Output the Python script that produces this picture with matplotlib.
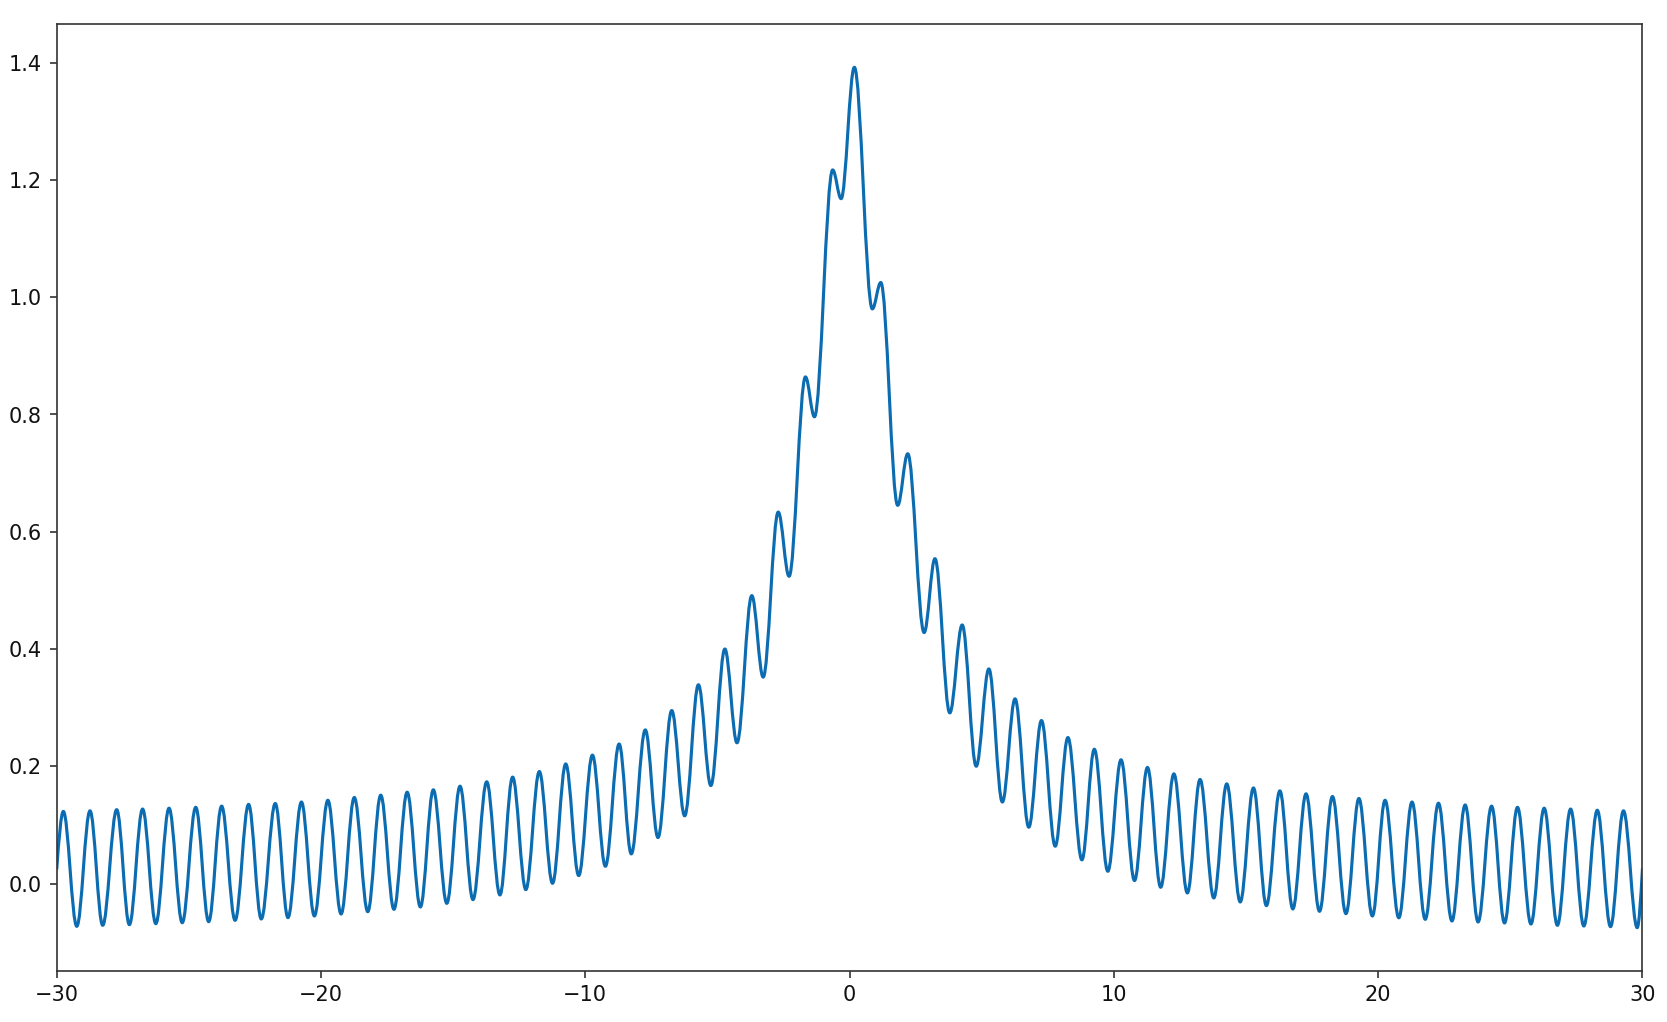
import numpy as np
import matplotlib
matplotlib.use("Agg")
import matplotlib.pyplot as plt
from matplotlib.path import Path
from matplotlib.patches import PathPatch

# ---- data (local maxima / minima of the curve) ----
peak_x = [-29.75, -28.74, -27.73, -26.75, -25.75, -24.74, -23.76, -22.74, -21.73, -20.74,
          -19.74, -18.74, -17.74, -16.74, -15.75, -14.74, -13.73, -12.75, -11.74, -10.74,
          -9.73, -8.72, -7.73, -6.73, -5.72, -4.72, -3.70, -2.70, -1.67, -0.64,
          0.18, 1.18, 2.20, 3.23, 4.26, 5.27, 6.26, 7.26, 8.26, 9.26,
          10.27, 11.27, 12.27, 13.26, 14.27, 15.28, 16.28, 17.27, 18.27, 19.27,
          20.26, 21.28, 22.28, 23.29, 24.29, 25.27, 26.28, 27.28, 28.29, 29.28]
peak_y = [0.123, 0.124, 0.126, 0.127, 0.1285, 0.130, 0.132, 0.135, 0.1365, 0.139,
          0.142, 0.1467, 0.1507, 0.1558, 0.1598, 0.166, 0.1735, 0.1815, 0.191, 0.204,
          0.219, 0.238, 0.262, 0.295, 0.339, 0.400, 0.491, 0.6335, 0.864, 1.217,
          1.392, 1.025, 0.733, 0.554, 0.441, 0.366, 0.315, 0.278, 0.249, 0.229,
          0.211, 0.198, 0.187, 0.1775, 0.170, 0.163, 0.158, 0.153, 0.1484, 0.145,
          0.142, 0.139, 0.137, 0.134, 0.132, 0.130, 0.1285, 0.127, 0.125, 0.124]
trough_x = [-29.24, -28.26, -27.25, -26.25, -25.25, -24.25, -23.25, -22.26, -21.25, -20.25,
            -19.24, -18.23, -17.24, -16.24, -15.24, -14.25, -13.23, -12.25, -11.24, -10.25,
            -9.24, -8.26, -7.25, -6.24, -5.25, -4.26, -3.27, -2.29, -1.33, -0.32,
            0.86, 1.82, 2.82, 3.79, 4.79, 5.78, 6.78, 7.78, 8.79, 9.77,
            10.78, 11.77, 12.78, 13.78, 14.78, 15.77, 16.77, 17.78, 18.78, 19.78,
            20.78, 21.78, 22.79, 23.78, 24.78, 25.78, 26.78, 27.78, 28.79, 29.80]
trough_y = [-0.073, -0.0713, -0.0702, -0.0685, -0.0668, -0.0651, -0.0628, -0.0605, -0.0582, -0.0554,
            -0.052, -0.048, -0.044, -0.040, -0.0338, -0.0275, -0.0195, -0.0104, 0.0004, 0.0135,
            0.0294, 0.0505, 0.0784, 0.1154, 0.167, 0.240, 0.352, 0.524, 0.796, 1.168,
            0.980, 0.645, 0.428, 0.291, 0.200, 0.139, 0.096, 0.0636, 0.0403, 0.0209,
            0.005, -0.0064, -0.0161, -0.0246, -0.0315, -0.0377, -0.0434, -0.0474, -0.0514, -0.0554,
            -0.0585, -0.0611, -0.0639, -0.0656, -0.0673, -0.0691, -0.0713, -0.0725, -0.0736, -0.0753]
end_x = [-30.0, 30.0]
end_y = [0.024, 0.026]

LINE_COLOR = "#0b6cb1"
SPINE_COLOR = "#333333"

# ---- build a smooth curve through the extrema (horizontal tangents at extrema) ----
ext_x = np.concatenate([peak_x, trough_x])
ext_y = np.concatenate([peak_y, trough_y])
order = np.argsort(ext_x)
ext_x, ext_y = ext_x[order], ext_y[order]

k = (np.pi - 2.0) / np.pi  # handle length for half-cosine shaped segments

verts = [(end_x[0], end_y[0])]
codes = [Path.MOVETO]

# first quarter wave
dx = ext_x[0] - end_x[0]
m0 = (ext_y[0] - end_y[0]) * np.pi / (2 * dx)
verts += [(end_x[0] + dx / 3, end_y[0] + m0 * dx / 3), (ext_x[0] - dx / 3, ext_y[0]), (ext_x[0], ext_y[0])]
codes += [Path.CURVE4] * 3

for i in range(len(ext_x) - 1):
    x0, y0, x1, y1 = ext_x[i], ext_y[i], ext_x[i + 1], ext_y[i + 1]
    d = x1 - x0
    verts += [(x0 + k * d, y0), (x1 - k * d, y1), (x1, y1)]
    codes += [Path.CURVE4] * 3

# last quarter wave
dx = end_x[1] - ext_x[-1]
m1 = (end_y[1] - ext_y[-1]) * np.pi / (2 * dx)
verts += [(ext_x[-1] + dx / 3, ext_y[-1]), (end_x[1] - dx / 3, end_y[1] - m1 * dx / 3), (end_x[1], end_y[1])]
codes += [Path.CURVE4] * 3

path = Path(verts, codes)

fig = plt.figure(figsize=(1667.2 / 150, 1022.2 / 150), dpi=150)
ax = fig.add_axes([56.7 / 1667, 1 - 970.7 / 1022, (1642.3 - 56.7) / 1667, (970.7 - 24.5) / 1022])
ax.add_patch(PathPatch(path, facecolor="none", edgecolor=LINE_COLOR, lw=1.5,
                       joinstyle="round", capstyle="butt"))

for s in ax.spines.values():
    s.set_color(SPINE_COLOR)
ax.tick_params(colors=SPINE_COLOR, labelcolor="#111111")

all_y = np.concatenate([ext_y, end_y])
ymin, ymax = all_y.min(), all_y.max()
pad = 0.05 * (ymax - ymin)
ax.set_ylim(ymin - pad, ymax + pad)
ax.set_xlim(end_x[0], end_x[1])

fig.savefig("out.png", dpi=150)
